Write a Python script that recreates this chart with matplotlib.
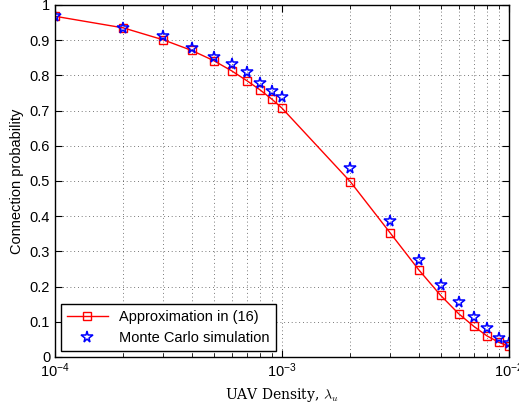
import matplotlib
matplotlib.use("Agg")
import matplotlib.pyplot as plt
import numpy as np
from matplotlib.ticker import LogLocator, NullFormatter

density = [1e-4, 2e-4, 3e-4, 4e-4, 5e-4, 6e-4, 7e-4, 8e-4, 9e-4, 1e-3,
           2e-3, 3e-3, 4e-3, 5e-3, 6e-3, 7e-3, 8e-3, 9e-3, 1e-2]
approx = [0.968, 0.935, 0.901, 0.871, 0.842, 0.813, 0.785, 0.759, 0.733, 0.707,
          0.498, 0.352, 0.248, 0.175, 0.123, 0.087, 0.060, 0.042, 0.030]
monte = [0.970, 0.936, 0.911, 0.878, 0.852, 0.833, 0.809, 0.778, 0.757, 0.740,
         0.537, 0.385, 0.276, 0.205, 0.155, 0.114, 0.082, 0.054, 0.040]
ytick_labels = ['0', '0.1', '0.2', '0.3', '0.4', '0.5', '0.6', '0.7', '0.8', '0.9', '1']

plt.rcParams['font.family'] = ['Liberation Sans', 'DejaVu Sans']
plt.rcParams['mathtext.fontset'] = 'cm'

fig = plt.figure(figsize=(5.19, 4.07), dpi=100)
ax = fig.add_axes([55/519, 50/407, 454/519, 352/407])

ax.plot(density, approx, color='red', lw=1.0, marker='s', markersize=6,
        markerfacecolor='none', markeredgecolor='red', markeredgewidth=1.0,
        label='Approximation in (16)')
ax.plot(density, monte, linestyle='none', marker='*', markersize=8.5,
        markerfacecolor='none', markeredgecolor='blue', markeredgewidth=1.1,
        label='Monte Carlo simulation')

ax.set_xscale('log')
ax.set_xlim(1e-4, 1e-2)
ax.set_ylim(0, 1)
ax.set_yticks(np.linspace(0, 1, 11))
ax.set_yticklabels(ytick_labels)
ax.xaxis.set_major_locator(LogLocator(base=10, numticks=10))
ax.xaxis.set_minor_locator(LogLocator(base=10, subs=np.arange(2, 10), numticks=20))
ax.xaxis.set_minor_formatter(NullFormatter())

ax.grid(True, which='major', linestyle=(0, (1, 3.5)), color='black', lw=0.6, alpha=0.7)
ax.grid(True, which='minor', axis='x', linestyle=(0, (1, 3.5)), color='black', lw=0.6, alpha=0.7)

ax.tick_params(which='both', direction='in', top=True, right=True, labelsize=10.5)
ax.tick_params(which='major', length=5)
ax.tick_params(which='minor', length=3)
for s in ax.spines.values():
    s.set_linewidth(1.0)

ax.set_xlabel(r'UAV Density, $\lambda_u$', fontfamily='DejaVu Serif', fontsize=10, labelpad=4)
ax.set_ylabel('Connection probability', fontsize=10.5)

leg = ax.legend(loc='lower left', fontsize=10.5, fancybox=False, edgecolor='black',
                framealpha=1, borderaxespad=0.4, handlelength=2.8)
leg.get_frame().set_linewidth(1.0)

fig.savefig('out.png', dpi=100)
